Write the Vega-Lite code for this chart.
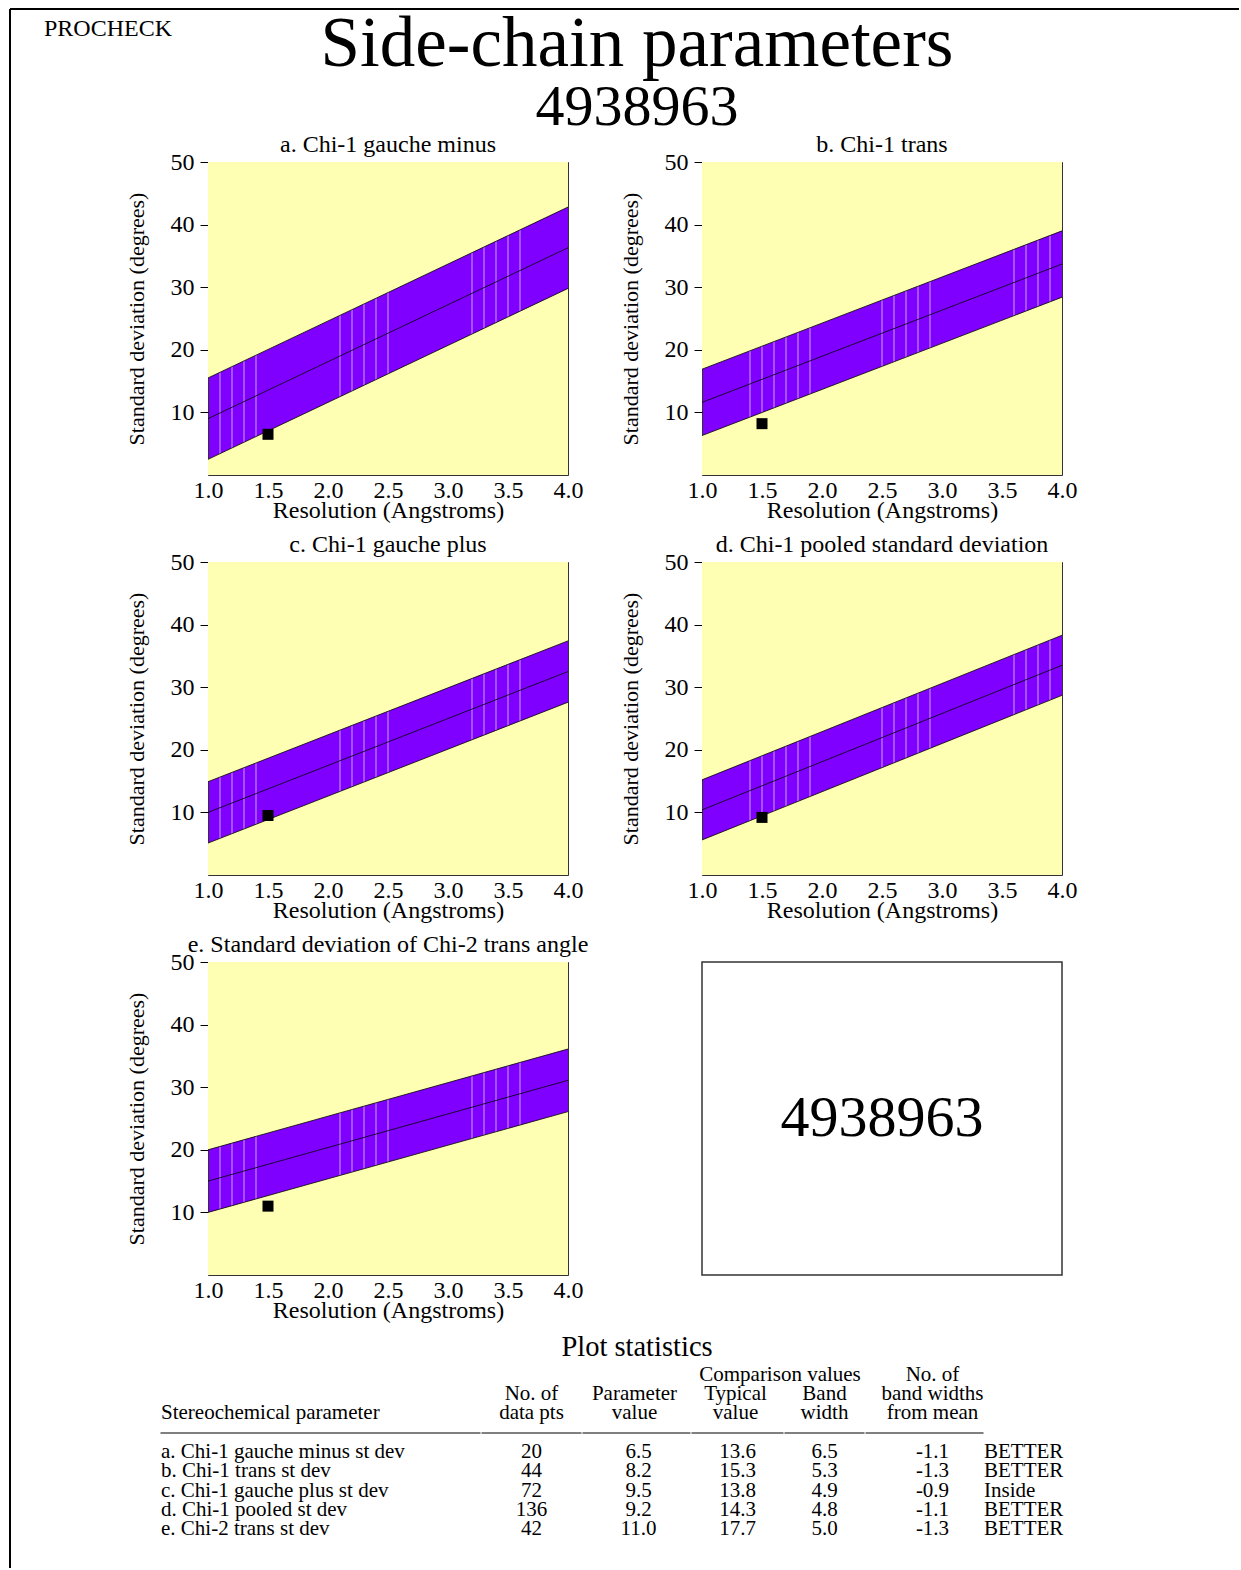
{
 "$schema": "https://vega.github.io/schema/vega-lite/v6.json",
 "padding": {"left": 9, "top": 8, "right": 0, "bottom": 0},
 "config": {
  "font": "Liberation Serif",
  "view": {"stroke": null},
  "title": {"fontWeight": "normal", "color": "black", "fontSize": 24},
  "axis": {"labelColor": "black", "titleColor": "black", "titleFontWeight": "normal", "grid": false, "domain": false, "labelFontSize": 24, "labelFont": "Liberation Serif", "titleFont": "Liberation Serif"},
  "axisX": {"ticks": false, "labelPadding": 3, "titlePadding": -4, "titleFontSize": 24, "labelFlush": false, "labelOverlap": false},
  "axisY": {"tickSize": 8, "tickColor": "black", "tickWidth": 1, "labelPadding": 6, "titlePadding": 22, "titleFontSize": 22},
  "text": {"color": "black"}
 },
 "datasets": {
  "bands": [
   {"panel":"a","res":1,"lo":2.5,"mid":9.0,"hi":15.5},
   {"panel":"a","res":4,"lo":29.8,"mid":36.3,"hi":42.8},
   {"panel":"b","res":1,"lo":6.3,"mid":11.6,"hi":16.9},
   {"panel":"b","res":4,"lo":28.4,"mid":33.7,"hi":39.0},
   {"panel":"c","res":1,"lo":5.1,"mid":10.0,"hi":14.9},
   {"panel":"c","res":4,"lo":27.6,"mid":32.5,"hi":37.4},
   {"panel":"d","res":1,"lo":5.6,"mid":10.4,"hi":15.2},
   {"panel":"d","res":4,"lo":28.7,"mid":33.5,"hi":38.3},
   {"panel":"e","res":1,"lo":10.0,"mid":15.0,"hi":20.0},
   {"panel":"e","res":4,"lo":26.1,"mid":31.1,"hi":36.1}
  ],
  "rules": [
   {"panel":"a","res":1.1},{"panel":"a","res":1.2},{"panel":"a","res":1.3},{"panel":"a","res":1.4},
   {"panel":"a","res":2.1},{"panel":"a","res":2.2},{"panel":"a","res":2.3},{"panel":"a","res":2.4},{"panel":"a","res":2.5},
   {"panel":"a","res":3.2},{"panel":"a","res":3.3},{"panel":"a","res":3.4},{"panel":"a","res":3.5},{"panel":"a","res":3.6},
   {"panel":"c","res":1.1},{"panel":"c","res":1.2},{"panel":"c","res":1.3},{"panel":"c","res":1.4},
   {"panel":"c","res":2.1},{"panel":"c","res":2.2},{"panel":"c","res":2.3},{"panel":"c","res":2.4},{"panel":"c","res":2.5},
   {"panel":"c","res":3.2},{"panel":"c","res":3.3},{"panel":"c","res":3.4},{"panel":"c","res":3.5},{"panel":"c","res":3.6},
   {"panel":"e","res":1.1},{"panel":"e","res":1.2},{"panel":"e","res":1.3},{"panel":"e","res":1.4},
   {"panel":"e","res":2.1},{"panel":"e","res":2.2},{"panel":"e","res":2.3},{"panel":"e","res":2.4},{"panel":"e","res":2.5},
   {"panel":"e","res":3.2},{"panel":"e","res":3.3},{"panel":"e","res":3.4},{"panel":"e","res":3.5},{"panel":"e","res":3.6},
   {"panel":"b","res":1.4},{"panel":"b","res":1.5},{"panel":"b","res":1.6},{"panel":"b","res":1.7},{"panel":"b","res":1.8},{"panel":"b","res":1.9},
   {"panel":"b","res":2.5},{"panel":"b","res":2.6},{"panel":"b","res":2.7},{"panel":"b","res":2.8},{"panel":"b","res":2.9},
   {"panel":"b","res":3.6},{"panel":"b","res":3.7},{"panel":"b","res":3.8},{"panel":"b","res":3.9},
   {"panel":"d","res":1.4},{"panel":"d","res":1.5},{"panel":"d","res":1.6},{"panel":"d","res":1.7},{"panel":"d","res":1.8},{"panel":"d","res":1.9},
   {"panel":"d","res":2.5},{"panel":"d","res":2.6},{"panel":"d","res":2.7},{"panel":"d","res":2.8},{"panel":"d","res":2.9},
   {"panel":"d","res":3.6},{"panel":"d","res":3.7},{"panel":"d","res":3.8},{"panel":"d","res":3.9}
  ],
  "points": [
   {"panel":"a","res":1.5,"value":6.5},
   {"panel":"b","res":1.5,"value":8.2},
   {"panel":"c","res":1.5,"value":9.5},
   {"panel":"d","res":1.5,"value":9.2},
   {"panel":"e","res":1.5,"value":11.0}
  ],
  "table": [
   {"row":"a","name":"a. Chi-1 gauche minus st dev","n":20,"val":6.5,"typ":13.6,"bw":6.5,"nbw":"-1.1","status":"BETTER"},
   {"row":"b","name":"b. Chi-1 trans st dev","n":44,"val":8.2,"typ":15.3,"bw":5.3,"nbw":"-1.3","status":"BETTER"},
   {"row":"c","name":"c. Chi-1 gauche plus st dev","n":72,"val":9.5,"typ":13.8,"bw":4.9,"nbw":"-0.9","status":"Inside"},
   {"row":"d","name":"d. Chi-1 pooled st dev","n":136,"val":9.2,"typ":14.3,"bw":4.8,"nbw":"-1.1","status":"BETTER"},
   {"row":"e","name":"e. Chi-2 trans st dev","n":42,"val":11.0,"typ":17.7,"bw":5.0,"nbw":"-1.3","status":"BETTER"}
  ]
 },
 "concat": [
  {"width": 1229, "height": 1559, "view": {"stroke": "black", "strokeWidth": 2, "strokeDash": [1229, 2788, 1559, 0]}, "data": {"values": [{}]}, "mark": {"type": "text", "text": ""}},
  {"vconcat": [
    {"vconcat": [
      {"hconcat": [
        {"width": 126, "height": 54, "data": {"values": [{"t": "PROCHECK"}]}, "mark": {"type": "text", "fontSize": 24, "baseline": "alphabetic", "align": "center"}, "encoding": {"text": {"field": "t", "type": "nominal"}}},
        {"width": 928, "height": 114,
         "title": {"text": "4938963", "orient": "bottom", "fontSize": 58, "offset": -44, "anchor": "middle", "frame": "group"},
         "data": {"values": [{"t": "Side-chain parameters"}]}, "mark": {"type": "text", "fontSize": 71, "baseline": "alphabetic", "align": "center"}, "encoding": {"text": {"field": "t", "type": "nominal"}}}
       ], "spacing": 0},
      {"hconcat": [
        {"width": 45, "height": 1, "data": {"values": [{}]}, "mark": {"type": "text", "text": ""}},
        {"width":360,"height":313,
         "title":{"text":"a. Chi-1 gauche minus","frame":"group","offset":-7},
         "view":{"fill":"#8000FF","stroke":"#333333","strokeWidth":1},
         "encoding":{"x":{"field":"res","type":"quantitative","scale":{"domain":[1,4],"nice":false,"zero":false},"axis":{"values":[1,1.5,2,2.5,3,3.5,4],"format":".1f","title":"Resolution (Angstroms)"}}},
         "layer":[
          {"data":{"name":"rules"},"transform":[{"filter":"datum.panel==='a'"}],"mark":{"type":"rule","color":"#C8A2FF","strokeWidth":1},"encoding":{"y":{"datum":0,"type":"quantitative","scale":{"domain":[0,50],"nice":false,"zero":false},"axis":{"values":[10,20,30,40,50],"title":"Standard deviation (degrees)"}},"y2":{"datum":50}}},
          {"data":{"name":"bands"},"transform":[{"filter":"datum.panel==='a'"}],"mark":{"type":"area","color":"#FFFFB4"},"encoding":{"y":{"field":"hi","type":"quantitative","scale":{"domain":[0,50],"nice":false,"zero":false},"axis":{"values":[10,20,30,40,50],"title":"Standard deviation (degrees)"}},"y2":{"datum":50}}},
          {"data":{"name":"bands"},"transform":[{"filter":"datum.panel==='a'"}],"mark":{"type":"area","color":"#FFFFB4"},"encoding":{"y":{"field":"lo","type":"quantitative","scale":{"domain":[0,50],"nice":false,"zero":false},"axis":{"values":[10,20,30,40,50],"title":"Standard deviation (degrees)"}},"y2":{"datum":0}}},
          {"data":{"name":"bands"},"transform":[{"filter":"datum.panel==='a'"},{"fold":["lo","mid","hi"],"as":["k","v"]}],"mark":{"type":"line","color":"black","strokeWidth":0.8},"encoding":{"y":{"field":"v","type":"quantitative","scale":{"domain":[0,50],"nice":false,"zero":false},"axis":{"values":[10,20,30,40,50],"title":"Standard deviation (degrees)"}},"detail":{"field":"k"}}},
          {"data":{"name":"points"},"transform":[{"filter":"datum.panel==='a'"}],"mark":{"type":"square","size":121,"color":"black","opacity":1,"filled":true},"encoding":{"y":{"field":"value","type":"quantitative","scale":{"domain":[0,50],"nice":false,"zero":false},"axis":{"values":[10,20,30,40,50],"title":"Standard deviation (degrees)"}}}}
         ]},
        {"width":360,"height":313,
         "title":{"text":"b. Chi-1 trans","frame":"group","offset":-7},
         "view":{"fill":"#8000FF","stroke":"#333333","strokeWidth":1},
         "encoding":{"x":{"field":"res","type":"quantitative","scale":{"domain":[1,4],"nice":false,"zero":false},"axis":{"values":[1,1.5,2,2.5,3,3.5,4],"format":".1f","title":"Resolution (Angstroms)"}}},
         "layer":[
          {"data":{"name":"rules"},"transform":[{"filter":"datum.panel==='b'"}],"mark":{"type":"rule","color":"#C8A2FF","strokeWidth":1},"encoding":{"y":{"datum":0,"type":"quantitative","scale":{"domain":[0,50],"nice":false,"zero":false},"axis":{"values":[10,20,30,40,50],"title":"Standard deviation (degrees)"}},"y2":{"datum":50}}},
          {"data":{"name":"bands"},"transform":[{"filter":"datum.panel==='b'"}],"mark":{"type":"area","color":"#FFFFB4"},"encoding":{"y":{"field":"hi","type":"quantitative","scale":{"domain":[0,50],"nice":false,"zero":false},"axis":{"values":[10,20,30,40,50],"title":"Standard deviation (degrees)"}},"y2":{"datum":50}}},
          {"data":{"name":"bands"},"transform":[{"filter":"datum.panel==='b'"}],"mark":{"type":"area","color":"#FFFFB4"},"encoding":{"y":{"field":"lo","type":"quantitative","scale":{"domain":[0,50],"nice":false,"zero":false},"axis":{"values":[10,20,30,40,50],"title":"Standard deviation (degrees)"}},"y2":{"datum":0}}},
          {"data":{"name":"bands"},"transform":[{"filter":"datum.panel==='b'"},{"fold":["lo","mid","hi"],"as":["k","v"]}],"mark":{"type":"line","color":"black","strokeWidth":0.8},"encoding":{"y":{"field":"v","type":"quantitative","scale":{"domain":[0,50],"nice":false,"zero":false},"axis":{"values":[10,20,30,40,50],"title":"Standard deviation (degrees)"}},"detail":{"field":"k"}}},
          {"data":{"name":"points"},"transform":[{"filter":"datum.panel==='b'"}],"mark":{"type":"square","size":121,"color":"black","opacity":1,"filled":true},"encoding":{"y":{"field":"value","type":"quantitative","scale":{"domain":[0,50],"nice":false,"zero":false},"axis":{"values":[10,20,30,40,50],"title":"Standard deviation (degrees)"}}}}
         ]}
       ], "spacing": 34}
     ], "spacing": -5},
    {"hconcat": [
      {"width": 45, "height": 1, "data": {"values": [{}]}, "mark": {"type": "text", "text": ""}},
      {"width":360,"height":313,
       "title":{"text":"c. Chi-1 gauche plus","frame":"group","offset":-7},
       "view":{"fill":"#8000FF","stroke":"#333333","strokeWidth":1},
       "encoding":{"x":{"field":"res","type":"quantitative","scale":{"domain":[1,4],"nice":false,"zero":false},"axis":{"values":[1,1.5,2,2.5,3,3.5,4],"format":".1f","title":"Resolution (Angstroms)"}}},
       "layer":[
        {"data":{"name":"rules"},"transform":[{"filter":"datum.panel==='c'"}],"mark":{"type":"rule","color":"#C8A2FF","strokeWidth":1},"encoding":{"y":{"datum":0,"type":"quantitative","scale":{"domain":[0,50],"nice":false,"zero":false},"axis":{"values":[10,20,30,40,50],"title":"Standard deviation (degrees)"}},"y2":{"datum":50}}},
        {"data":{"name":"bands"},"transform":[{"filter":"datum.panel==='c'"}],"mark":{"type":"area","color":"#FFFFB4"},"encoding":{"y":{"field":"hi","type":"quantitative","scale":{"domain":[0,50],"nice":false,"zero":false},"axis":{"values":[10,20,30,40,50],"title":"Standard deviation (degrees)"}},"y2":{"datum":50}}},
        {"data":{"name":"bands"},"transform":[{"filter":"datum.panel==='c'"}],"mark":{"type":"area","color":"#FFFFB4"},"encoding":{"y":{"field":"lo","type":"quantitative","scale":{"domain":[0,50],"nice":false,"zero":false},"axis":{"values":[10,20,30,40,50],"title":"Standard deviation (degrees)"}},"y2":{"datum":0}}},
        {"data":{"name":"bands"},"transform":[{"filter":"datum.panel==='c'"},{"fold":["lo","mid","hi"],"as":["k","v"]}],"mark":{"type":"line","color":"black","strokeWidth":0.8},"encoding":{"y":{"field":"v","type":"quantitative","scale":{"domain":[0,50],"nice":false,"zero":false},"axis":{"values":[10,20,30,40,50],"title":"Standard deviation (degrees)"}},"detail":{"field":"k"}}},
        {"data":{"name":"points"},"transform":[{"filter":"datum.panel==='c'"}],"mark":{"type":"square","size":121,"color":"black","opacity":1,"filled":true},"encoding":{"y":{"field":"value","type":"quantitative","scale":{"domain":[0,50],"nice":false,"zero":false},"axis":{"values":[10,20,30,40,50],"title":"Standard deviation (degrees)"}}}}
       ]},
      {"width":360,"height":313,
       "title":{"text":"d. Chi-1 pooled standard deviation","frame":"group","offset":-7},
       "view":{"fill":"#8000FF","stroke":"#333333","strokeWidth":1},
       "encoding":{"x":{"field":"res","type":"quantitative","scale":{"domain":[1,4],"nice":false,"zero":false},"axis":{"values":[1,1.5,2,2.5,3,3.5,4],"format":".1f","title":"Resolution (Angstroms)"}}},
       "layer":[
        {"data":{"name":"rules"},"transform":[{"filter":"datum.panel==='d'"}],"mark":{"type":"rule","color":"#C8A2FF","strokeWidth":1},"encoding":{"y":{"datum":0,"type":"quantitative","scale":{"domain":[0,50],"nice":false,"zero":false},"axis":{"values":[10,20,30,40,50],"title":"Standard deviation (degrees)"}},"y2":{"datum":50}}},
        {"data":{"name":"bands"},"transform":[{"filter":"datum.panel==='d'"}],"mark":{"type":"area","color":"#FFFFB4"},"encoding":{"y":{"field":"hi","type":"quantitative","scale":{"domain":[0,50],"nice":false,"zero":false},"axis":{"values":[10,20,30,40,50],"title":"Standard deviation (degrees)"}},"y2":{"datum":50}}},
        {"data":{"name":"bands"},"transform":[{"filter":"datum.panel==='d'"}],"mark":{"type":"area","color":"#FFFFB4"},"encoding":{"y":{"field":"lo","type":"quantitative","scale":{"domain":[0,50],"nice":false,"zero":false},"axis":{"values":[10,20,30,40,50],"title":"Standard deviation (degrees)"}},"y2":{"datum":0}}},
        {"data":{"name":"bands"},"transform":[{"filter":"datum.panel==='d'"},{"fold":["lo","mid","hi"],"as":["k","v"]}],"mark":{"type":"line","color":"black","strokeWidth":0.8},"encoding":{"y":{"field":"v","type":"quantitative","scale":{"domain":[0,50],"nice":false,"zero":false},"axis":{"values":[10,20,30,40,50],"title":"Standard deviation (degrees)"}},"detail":{"field":"k"}}},
        {"data":{"name":"points"},"transform":[{"filter":"datum.panel==='d'"}],"mark":{"type":"square","size":121,"color":"black","opacity":1,"filled":true},"encoding":{"y":{"field":"value","type":"quantitative","scale":{"domain":[0,50],"nice":false,"zero":false},"axis":{"values":[10,20,30,40,50],"title":"Standard deviation (degrees)"}}}}
       ]}
     ], "spacing": 34},
    {"hconcat": [
      {"width": 45, "height": 1, "data": {"values": [{}]}, "mark": {"type": "text", "text": ""}},
      {"width":360,"height":313,
       "title":{"text":"e. Standard deviation of Chi-2 trans angle","frame":"group","offset":-7},
       "view":{"fill":"#8000FF","stroke":"#333333","strokeWidth":1},
       "encoding":{"x":{"field":"res","type":"quantitative","scale":{"domain":[1,4],"nice":false,"zero":false},"axis":{"values":[1,1.5,2,2.5,3,3.5,4],"format":".1f","title":"Resolution (Angstroms)"}}},
       "layer":[
        {"data":{"name":"rules"},"transform":[{"filter":"datum.panel==='e'"}],"mark":{"type":"rule","color":"#C8A2FF","strokeWidth":1},"encoding":{"y":{"datum":0,"type":"quantitative","scale":{"domain":[0,50],"nice":false,"zero":false},"axis":{"values":[10,20,30,40,50],"title":"Standard deviation (degrees)"}},"y2":{"datum":50}}},
        {"data":{"name":"bands"},"transform":[{"filter":"datum.panel==='e'"}],"mark":{"type":"area","color":"#FFFFB4"},"encoding":{"y":{"field":"hi","type":"quantitative","scale":{"domain":[0,50],"nice":false,"zero":false},"axis":{"values":[10,20,30,40,50],"title":"Standard deviation (degrees)"}},"y2":{"datum":50}}},
        {"data":{"name":"bands"},"transform":[{"filter":"datum.panel==='e'"}],"mark":{"type":"area","color":"#FFFFB4"},"encoding":{"y":{"field":"lo","type":"quantitative","scale":{"domain":[0,50],"nice":false,"zero":false},"axis":{"values":[10,20,30,40,50],"title":"Standard deviation (degrees)"}},"y2":{"datum":0}}},
        {"data":{"name":"bands"},"transform":[{"filter":"datum.panel==='e'"},{"fold":["lo","mid","hi"],"as":["k","v"]}],"mark":{"type":"line","color":"black","strokeWidth":0.8},"encoding":{"y":{"field":"v","type":"quantitative","scale":{"domain":[0,50],"nice":false,"zero":false},"axis":{"values":[10,20,30,40,50],"title":"Standard deviation (degrees)"}},"detail":{"field":"k"}}},
        {"data":{"name":"points"},"transform":[{"filter":"datum.panel==='e'"}],"mark":{"type":"square","size":121,"color":"black","opacity":1,"filled":true},"encoding":{"y":{"field":"value","type":"quantitative","scale":{"domain":[0,50],"nice":false,"zero":false},"axis":{"values":[10,20,30,40,50],"title":"Standard deviation (degrees)"}}}}
       ]},
      {"width": 44, "height": 1, "data": {"values": [{}]}, "mark": {"type": "text", "text": ""}},
      {"width":360,"height":313,
       "view":{"fill":"white","stroke":"#333333","strokeWidth":1.5},
       "data":{"values":[{"label":"4938963"}]},
       "mark":{"type":"text","fontSize":58,"baseline":"middle","align":"center"},
       "encoding":{"text":{"field":"label","type":"nominal"}}}
     ], "spacing": 34},
    {"title": {"text": "Plot statistics", "anchor": "middle", "frame": "bounds", "fontSize": 28.5, "offset": 3, "dx": 59},
     "hconcat": [
      {"width": 115, "height": 1, "data": {"values": [{}]}, "mark": {"type": "text", "text": ""}},
      {"width": 319, "height": 96,
       "title": {"text": "Stereochemical parameter", "anchor": "start", "frame": "group", "offset": 9, "fontSize": 21},
       "layer": [
        {"data": {"values": [{}]}, "mark": {"type": "rule", "color": "black", "strokeWidth": 1, "strokeCap": "square"}, "encoding": {"y": {"datum": "line", "type": "nominal", "scale": {"type": "point", "domain": ["line","a","b","c","d","e"], "padding": 0}, "axis": null}}},
        {"data": {"name": "table"}, "mark": {"type": "text", "fontSize": 21, "baseline": "middle", "align": "left"}, "encoding": {"x": {"datum": 0, "type": "quantitative", "scale": {"domain": [0, 1], "nice": false, "zero": false}, "axis": null}, "y": {"field": "row", "type": "nominal", "scale": {"type": "point", "domain": ["line","a","b","c","d","e"], "padding": 0}, "axis": null}, "text": {"field": "name", "type": "nominal"}}}
       ]},
      {"width": 99, "height": 96,
       "title": {"text": ["No. of", "data pts"], "anchor": "middle", "frame": "group", "offset": 9, "fontSize": 21, "lineHeight": 19},
       "layer": [
        {"data": {"values": [{}]}, "mark": {"type": "rule", "color": "black", "strokeWidth": 1, "strokeCap": "square"}, "encoding": {"y": {"datum": "line", "type": "nominal", "scale": {"type": "point", "domain": ["line","a","b","c","d","e"], "padding": 0}, "axis": null}}},
        {"data": {"name": "table"}, "mark": {"type": "text", "fontSize": 21, "baseline": "middle", "align": "center"}, "encoding": {"y": {"field": "row", "type": "nominal", "scale": {"type": "point", "domain": ["line","a","b","c","d","e"], "padding": 0}, "axis": null}, "text": {"field": "n", "type": "quantitative", "format": "d"}}}
       ]},
      {"width": 107, "height": 96,
       "title": {"text": ["Parameter", "value"], "anchor": "middle", "frame": "group", "offset": 9, "fontSize": 21, "lineHeight": 19, "dx": -2},
       "layer": [
        {"data": {"values": [{}]}, "mark": {"type": "rule", "color": "black", "strokeWidth": 1, "strokeCap": "square"}, "encoding": {"y": {"datum": "line", "type": "nominal", "scale": {"type": "point", "domain": ["line","a","b","c","d","e"], "padding": 0}, "axis": null}}},
        {"data": {"name": "table"}, "mark": {"type": "text", "fontSize": 21, "baseline": "middle", "align": "center", "dx": 2}, "encoding": {"y": {"field": "row", "type": "nominal", "scale": {"type": "point", "domain": ["line","a","b","c","d","e"], "padding": 0}, "axis": null}, "text": {"field": "val", "type": "quantitative", "format": ".1f"}}}
       ]},
      {"title": {"text": "Comparison values", "anchor": "middle", "frame": "bounds", "offset": -2, "fontSize": 21, "dx": 2},
       "hconcat": [
        {"width": 91, "height": 96,
         "title": {"text": ["Typical", "value"], "anchor": "middle", "frame": "group", "offset": 9, "fontSize": 21, "lineHeight": 19, "dx": -2},
         "layer": [
          {"data": {"values": [{}]}, "mark": {"type": "rule", "color": "black", "strokeWidth": 1, "strokeCap": "square"}, "encoding": {"y": {"datum": "line", "type": "nominal", "scale": {"type": "point", "domain": ["line","a","b","c","d","e"], "padding": 0}, "axis": null}}},
          {"data": {"name": "table"}, "mark": {"type": "text", "fontSize": 21, "baseline": "middle", "align": "center"}, "encoding": {"y": {"field": "row", "type": "nominal", "scale": {"type": "point", "domain": ["line","a","b","c","d","e"], "padding": 0}, "axis": null}, "text": {"field": "typ", "type": "quantitative", "format": ".1f"}}}
         ]},
        {"width": 79, "height": 96,
         "title": {"text": ["Band", "width"], "anchor": "middle", "frame": "group", "offset": 9, "fontSize": 21, "lineHeight": 19},
         "layer": [
          {"data": {"values": [{}]}, "mark": {"type": "rule", "color": "black", "strokeWidth": 1, "strokeCap": "square"}, "encoding": {"y": {"datum": "line", "type": "nominal", "scale": {"type": "point", "domain": ["line","a","b","c","d","e"], "padding": 0}, "axis": null}}},
          {"data": {"name": "table"}, "mark": {"type": "text", "fontSize": 21, "baseline": "middle", "align": "center"}, "encoding": {"y": {"field": "row", "type": "nominal", "scale": {"type": "point", "domain": ["line","a","b","c","d","e"], "padding": 0}, "axis": null}, "text": {"field": "bw", "type": "quantitative", "format": ".1f"}}}
         ]}
       ], "spacing": 0},
      {"width": 117, "height": 96,
       "title": {"text": ["No. of", "band widths", "from mean"], "anchor": "middle", "frame": "group", "offset": 9, "fontSize": 21, "lineHeight": 19, "dx": 8},
       "layer": [
        {"data": {"values": [{}]}, "mark": {"type": "rule", "color": "black", "strokeWidth": 1, "strokeCap": "square"}, "encoding": {"y": {"datum": "line", "type": "nominal", "scale": {"type": "point", "domain": ["line","a","b","c","d","e"], "padding": 0}, "axis": null}}},
        {"data": {"name": "table"}, "mark": {"type": "text", "fontSize": 21, "baseline": "middle", "align": "center", "dx": 8}, "encoding": {"y": {"field": "row", "type": "nominal", "scale": {"type": "point", "domain": ["line","a","b","c","d","e"], "padding": 0}, "axis": null}, "text": {"field": "nbw", "type": "nominal"}}}
       ]},
      {"width": 127, "height": 96,
       "data": {"name": "table"},
       "mark": {"type": "text", "fontSize": 21, "baseline": "middle", "align": "left"},
       "encoding": {"x": {"datum": 0, "type": "quantitative", "scale": {"domain": [0, 1], "nice": false, "zero": false}, "axis": null}, "y": {"field": "row", "type": "nominal", "scale": {"type": "point", "domain": ["line","a","b","c","d","e"], "padding": 0}, "axis": null}, "text": {"field": "status", "type": "nominal"}}}
     ], "spacing": 0}
   ], "spacing": 9}
 ],
 "columns": 2,
 "align": "none",
 "spacing": -1197
}
